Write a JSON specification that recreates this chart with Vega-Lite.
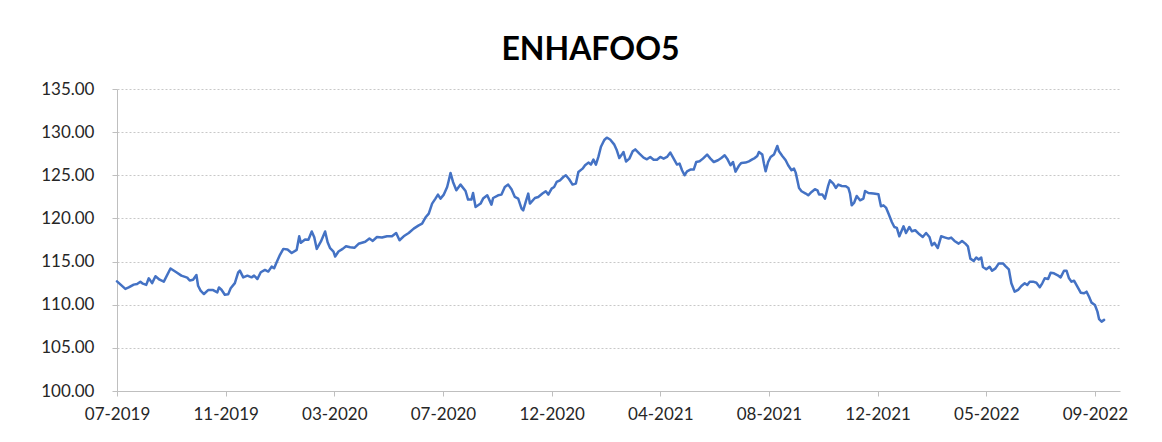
{
"$schema": "https://vega.github.io/schema/vega-lite/v6.json",
"width": 1003, "height": 302,
"autosize": "none",
"padding": {"left": 117, "top": 89, "right": 42, "bottom": 51},
"background": "white",
"title": {"text": "ENHAFOO5", "font": "Lato", "fontSize": 32, "fontWeight": "bold", "color": "#000000", "anchor": "middle", "dx": -28, "offset": 13},
"data": {"values": [
{"date":"2019-07-03","value":112.7},{"date":"2019-07-13","value":111.83},{"date":"2019-07-17","value":112.0},{"date":"2019-07-23","value":112.33},{"date":"2019-07-27","value":112.4},{"date":"2019-07-31","value":112.67},{"date":"2019-08-03","value":112.44},{"date":"2019-08-07","value":112.3},{"date":"2019-08-10","value":113.06},{"date":"2019-08-14","value":112.5},{"date":"2019-08-18","value":113.3},{"date":"2019-08-23","value":112.9},{"date":"2019-08-28","value":112.67},{"date":"2019-09-05","value":114.2},{"date":"2019-09-12","value":113.76},{"date":"2019-09-18","value":113.37},{"date":"2019-09-25","value":113.14},{"date":"2019-09-28","value":112.8},{"date":"2019-10-02","value":112.9},{"date":"2019-10-06","value":113.45},{"date":"2019-10-08","value":112.2},{"date":"2019-10-11","value":111.63},{"date":"2019-10-15","value":111.24},{"date":"2019-10-20","value":111.7},{"date":"2019-10-26","value":111.7},{"date":"2019-10-31","value":111.43},{"date":"2019-11-02","value":112.0},{"date":"2019-11-05","value":111.74},{"date":"2019-11-09","value":111.16},{"date":"2019-11-13","value":111.2},{"date":"2019-11-16","value":111.9},{"date":"2019-11-21","value":112.5},{"date":"2019-11-25","value":113.76},
{"date":"2019-11-27","value":113.95},{"date":"2019-12-01","value":113.17},{"date":"2019-12-06","value":113.37},{"date":"2019-12-11","value":113.17},{"date":"2019-12-14","value":113.37},{"date":"2019-12-18","value":112.98},{"date":"2019-12-22","value":113.76},{"date":"2019-12-27","value":114.03},{"date":"2019-12-31","value":113.84},{"date":"2020-01-04","value":114.42},{"date":"2020-01-07","value":114.22},{"date":"2020-01-10","value":114.92},{"date":"2020-01-14","value":115.78},{"date":"2020-01-18","value":116.47},{"date":"2020-01-23","value":116.4},{"date":"2020-01-28","value":116.0},{"date":"2020-02-03","value":116.36},{"date":"2020-02-06","value":117.94},{"date":"2020-02-08","value":117.17},{"date":"2020-02-13","value":117.56},{"date":"2020-02-17","value":117.52},{"date":"2020-02-21","value":118.49},{"date":"2020-02-24","value":117.83},{"date":"2020-02-27","value":116.47},{"date":"2020-03-03","value":117.33},{"date":"2020-03-08","value":118.49},{"date":"2020-03-11","value":117.24},{"date":"2020-03-14","value":116.55},{"date":"2020-03-18","value":116.16},{"date":"2020-03-20","value":115.58},{"date":"2020-03-24","value":116.16},{"date":"2020-03-29","value":116.47},{"date":"2020-04-02","value":116.78},{"date":"2020-04-07","value":116.66},{"date":"2020-04-12","value":116.59},{"date":"2020-04-17","value":117.06},{"date":"2020-04-25","value":117.3},
{"date":"2020-04-30","value":117.67},{"date":"2020-05-04","value":117.39},{"date":"2020-05-09","value":117.85},{"date":"2020-05-15","value":117.78},{"date":"2020-05-21","value":117.93},{"date":"2020-05-27","value":117.93},{"date":"2020-06-01","value":118.31},{"date":"2020-06-05","value":117.47},{"date":"2020-06-10","value":117.93},{"date":"2020-06-16","value":118.31},{"date":"2020-06-22","value":118.82},{"date":"2020-06-28","value":119.2},{"date":"2020-07-02","value":119.4},{"date":"2020-07-06","value":120.1},{"date":"2020-07-10","value":120.56},{"date":"2020-07-14","value":121.72},{"date":"2020-07-18","value":122.3},{"date":"2020-07-21","value":122.76},{"date":"2020-07-24","value":122.3},{"date":"2020-07-28","value":122.76},{"date":"2020-08-01","value":123.64},{"date":"2020-08-03","value":124.42},{"date":"2020-08-05","value":125.27},{"date":"2020-08-08","value":124.23},{"date":"2020-08-12","value":123.26},{"date":"2020-08-17","value":123.92},{"date":"2020-08-23","value":123.18},{"date":"2020-08-26","value":122.18},{"date":"2020-08-30","value":122.18},{"date":"2020-09-01","value":122.95},{"date":"2020-09-04","value":121.33},{"date":"2020-09-10","value":121.72},{"date":"2020-09-13","value":122.3},{"date":"2020-09-18","value":122.68},
{"date":"2020-09-23","value":121.6},{"date":"2020-09-25","value":122.37},{"date":"2020-10-01","value":122.68},{"date":"2020-10-05","value":122.76},{"date":"2020-10-09","value":123.64},{"date":"2020-10-13","value":123.92},{"date":"2020-10-17","value":123.38},{"date":"2020-10-21","value":122.49},{"date":"2020-10-25","value":122.3},{"date":"2020-10-29","value":121.14},{"date":"2020-10-31","value":120.94},{"date":"2020-11-03","value":121.91},{"date":"2020-11-06","value":122.88},{"date":"2020-11-08","value":121.72},{"date":"2020-11-14","value":122.37},{"date":"2020-11-18","value":122.49},{"date":"2020-11-23","value":122.88},{"date":"2020-11-27","value":123.15},{"date":"2020-11-30","value":122.76},{"date":"2020-12-04","value":123.46},{"date":"2020-12-07","value":123.64},{"date":"2020-12-10","value":124.23},{"date":"2020-12-14","value":124.42},{"date":"2020-12-18","value":124.8},{"date":"2020-12-21","value":125.0},{"date":"2020-12-25","value":124.54},{"date":"2020-12-29","value":123.92},{"date":"2021-01-02","value":124.04},{"date":"2021-01-05","value":125.38},{"date":"2021-01-10","value":125.77},{"date":"2021-01-13","value":126.16},{"date":"2021-01-17","value":126.47},{"date":"2021-01-20","value":126.24},{"date":"2021-01-23","value":126.82},{"date":"2021-01-26","value":126.24},{"date":"2021-01-29","value":127.16},{"date":"2021-02-01","value":128.31},{"date":"2021-02-05","value":129.09},{"date":"2021-02-08","value":129.36},{"date":"2021-02-12","value":129.15},
{"date":"2021-02-17","value":128.55},{"date":"2021-02-20","value":127.9},{"date":"2021-02-23","value":127.0},{"date":"2021-02-26","value":127.4},{"date":"2021-02-28","value":127.7},{"date":"2021-03-03","value":126.6},{"date":"2021-03-07","value":126.93},{"date":"2021-03-11","value":127.78},{"date":"2021-03-14","value":128.0},{"date":"2021-03-19","value":127.5},{"date":"2021-03-24","value":127.04},{"date":"2021-03-28","value":126.85},{"date":"2021-04-01","value":127.12},{"date":"2021-04-05","value":126.8},{"date":"2021-04-09","value":126.8},{"date":"2021-04-13","value":127.12},{"date":"2021-04-17","value":126.93},{"date":"2021-04-21","value":127.12},{"date":"2021-04-25","value":127.63},{"date":"2021-04-29","value":126.93},{"date":"2021-05-03","value":126.24},{"date":"2021-05-06","value":126.36},{"date":"2021-05-09","value":125.58},{"date":"2021-05-12","value":125.0},{"date":"2021-05-15","value":125.46},{"date":"2021-05-19","value":125.66},{"date":"2021-05-23","value":125.66},{"date":"2021-05-26","value":126.54},{"date":"2021-05-30","value":126.62},{"date":"2021-06-03","value":126.93},{"date":"2021-06-08","value":127.4},{"date":"2021-06-12","value":126.93},{"date":"2021-06-16","value":126.54},{"date":"2021-06-21","value":126.74},{"date":"2021-06-25","value":127.0},{"date":"2021-06-29","value":127.32},{"date":"2021-07-02","value":126.93},{"date":"2021-07-06","value":126.16},{"date":"2021-07-09","value":126.54},{"date":"2021-07-12","value":125.42},{"date":"2021-07-16","value":126.1},
{"date":"2021-07-19","value":126.43},{"date":"2021-07-24","value":126.47},{"date":"2021-07-28","value":126.62},{"date":"2021-08-01","value":126.85},{"date":"2021-08-04","value":127.0},{"date":"2021-08-07","value":127.24},{"date":"2021-08-09","value":127.7},{"date":"2021-08-13","value":127.4},{"date":"2021-08-15","value":126.36},{"date":"2021-08-17","value":125.46},{"date":"2021-08-20","value":126.54},{"date":"2021-08-23","value":127.12},{"date":"2021-08-27","value":127.4},{"date":"2021-08-29","value":127.9},{"date":"2021-08-31","value":128.4},{"date":"2021-09-02","value":127.78},{"date":"2021-09-06","value":127.24},{"date":"2021-09-10","value":126.74},{"date":"2021-09-13","value":126.16},{"date":"2021-09-17","value":125.58},{"date":"2021-09-20","value":125.77},{"date":"2021-09-22","value":125.31},{"date":"2021-09-26","value":123.53},{"date":"2021-09-29","value":123.15},{"date":"2021-10-04","value":122.88},{"date":"2021-10-07","value":122.68},{"date":"2021-10-11","value":123.07},{"date":"2021-10-15","value":123.38},{"date":"2021-10-18","value":123.26},{"date":"2021-10-20","value":122.76},{"date":"2021-10-24","value":122.76},{"date":"2021-10-27","value":122.3},{"date":"2021-10-31","value":123.84},{"date":"2021-11-02","value":124.42},{"date":"2021-11-06","value":124.04},{"date":"2021-11-09","value":123.53},{"date":"2021-11-12","value":123.92},{"date":"2021-11-16","value":123.76},{"date":"2021-11-21","value":123.73},{"date":"2021-11-24","value":123.53},{"date":"2021-11-26","value":122.88},{"date":"2021-11-28","value":121.52},{"date":"2021-12-01","value":121.84},{"date":"2021-12-04","value":122.6},{"date":"2021-12-08","value":122.1},
{"date":"2021-12-12","value":122.3},{"date":"2021-12-14","value":123.18},{"date":"2021-12-18","value":122.95},{"date":"2021-12-24","value":122.88},{"date":"2021-12-30","value":122.8},{"date":"2022-01-02","value":121.41},{"date":"2022-01-05","value":121.52},{"date":"2022-01-08","value":121.26},{"date":"2022-01-11","value":120.56},{"date":"2022-01-15","value":119.59},{"date":"2022-01-18","value":119.01},{"date":"2022-01-21","value":118.9},{"date":"2022-01-24","value":117.93},{"date":"2022-01-27","value":118.63},{"date":"2022-01-29","value":119.09},{"date":"2022-02-01","value":118.31},{"date":"2022-02-05","value":119.01},{"date":"2022-02-08","value":118.51},{"date":"2022-02-12","value":118.63},{"date":"2022-02-17","value":118.16},{"date":"2022-02-21","value":117.85},{"date":"2022-02-25","value":118.31},{"date":"2022-03-01","value":117.85},{"date":"2022-03-04","value":116.89},{"date":"2022-03-07","value":117.16},{"date":"2022-03-11","value":116.58},{"date":"2022-03-15","value":117.93},{"date":"2022-03-20","value":117.78},{"date":"2022-03-24","value":117.66},{"date":"2022-03-27","value":117.78},{"date":"2022-03-31","value":117.39},{"date":"2022-04-05","value":117.08},{"date":"2022-04-09","value":117.39},{"date":"2022-04-13","value":117.08},{"date":"2022-04-16","value":116.77},{"date":"2022-04-19","value":115.34},{"date":"2022-04-23","value":115.06},{"date":"2022-04-26","value":115.46},{"date":"2022-04-29","value":115.23},{"date":"2022-05-02","value":115.46},{"date":"2022-05-04","value":114.37},{"date":"2022-05-08","value":114.1},{"date":"2022-05-12","value":114.4},
{"date":"2022-05-15","value":113.94},{"date":"2022-05-19","value":114.21},{"date":"2022-05-23","value":114.79},{"date":"2022-05-28","value":114.79},{"date":"2022-05-31","value":114.48},{"date":"2022-06-04","value":114.1},{"date":"2022-06-07","value":112.48},{"date":"2022-06-11","value":111.51},{"date":"2022-06-15","value":111.71},{"date":"2022-06-19","value":112.17},{"date":"2022-06-23","value":112.48},{"date":"2022-06-26","value":112.28},{"date":"2022-06-29","value":112.67},{"date":"2022-07-03","value":112.67},{"date":"2022-07-07","value":112.55},{"date":"2022-07-11","value":112.02},{"date":"2022-07-14","value":112.48},{"date":"2022-07-17","value":113.06},{"date":"2022-07-21","value":112.98},{"date":"2022-07-24","value":113.71},{"date":"2022-07-28","value":113.64},{"date":"2022-08-01","value":113.44},{"date":"2022-08-05","value":113.17},{"date":"2022-08-09","value":113.94},{"date":"2022-08-12","value":113.94},{"date":"2022-08-15","value":113.06},{"date":"2022-08-18","value":112.67},{"date":"2022-08-21","value":112.78},{"date":"2022-08-25","value":112.09},{"date":"2022-08-29","value":111.39},{"date":"2022-09-02","value":111.32},{"date":"2022-09-05","value":111.51},{"date":"2022-09-08","value":110.93},{"date":"2022-09-11","value":110.24},{"date":"2022-09-15","value":109.97},{"date":"2022-09-18","value":109.2},{"date":"2022-09-20","value":108.32},{"date":"2022-09-23","value":108.04},{"date":"2022-09-26","value":108.24}
]},
"mark": {"type": "line", "color": "#4472C4", "strokeWidth": 2.5, "strokeJoin": "round", "strokeCap": "round"},
"encoding": {
  "x": {"field": "date", "type": "temporal",
    "scale": {"type": "utc", "domain": [{"year": 2019, "month": 7, "date": 3, "utc": true}, {"year": 2022, "month": 10, "date": 15, "utc": true}]},
    "axis": {"title": null,
      "values": [{"year":2019,"month":7,"date":3,"utc":true},{"year":2019,"month":11,"date":10,"utc":true},{"year":2020,"month":3,"date":19,"utc":true},{"year":2020,"month":7,"date":27,"utc":true},{"year":2020,"month":12,"date":4,"utc":true},{"year":2021,"month":4,"date":13,"utc":true},{"year":2021,"month":8,"date":21,"utc":true},{"year":2021,"month":12,"date":29,"utc":true},{"year":2022,"month":5,"date":8,"utc":true},{"year":2022,"month":9,"date":15,"utc":true}],
      "format": "%m-%Y", "labelFont": "Lato", "labelFontSize": 17, "labelColor": "#262626",
      "tickColor": "#bfbfbf", "domainColor": "#bfbfbf", "tickSize": 5, "labelPadding": 10,
      "grid": false, "labelFlush": false, "labelOverlap": false, "zindex": 1}},
  "y": {"field": "value", "type": "quantitative",
    "scale": {"domain": [100, 135], "zero": false, "nice": false},
    "axis": {"title": null, "values": [100, 105, 110, 115, 120, 125, 130, 135], "format": ".2f",
      "labelFont": "Lato", "labelFontSize": 17, "labelColor": "#262626",
      "tickColor": "#bfbfbf", "domainColor": "#bfbfbf", "tickSize": 5, "labelPadding": 18,
      "gridColor": "#c8c8c8", "gridDash": [2, 2], "gridWidth": 1}}
},
"config": {"view": {"stroke": null}, "font": "Lato"}
}
